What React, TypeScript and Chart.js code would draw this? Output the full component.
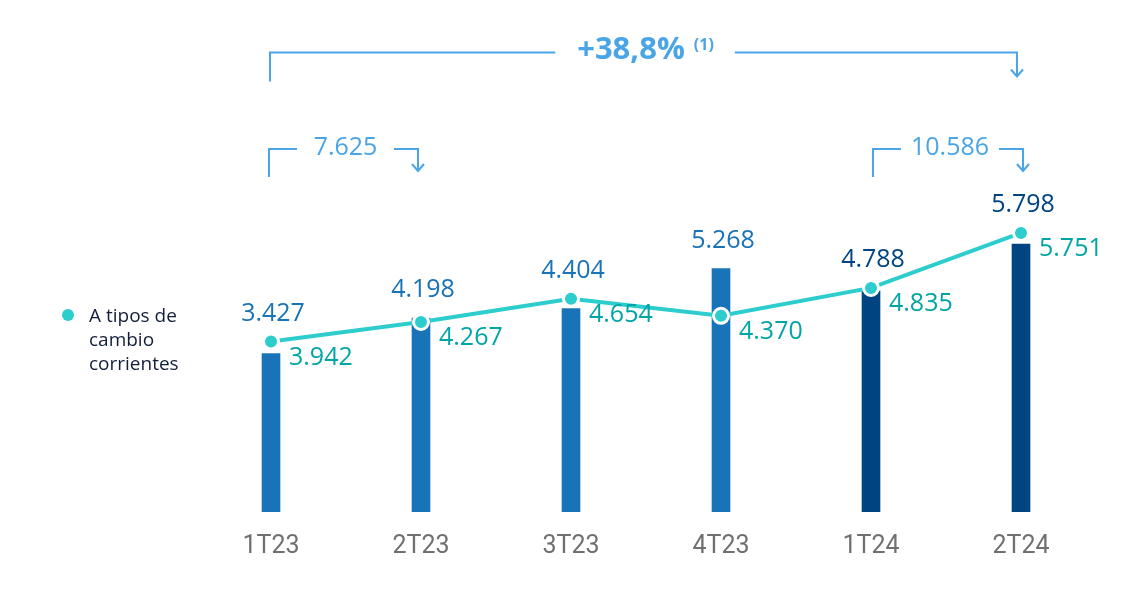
import React, { useEffect, useRef } from "react";
import { Chart, registerables } from "chart.js";

Chart.register(...registerables);

const categories = ["1T23", "2T23", "3T23", "4T23", "1T24", "2T24"];
const barValues = [3427, 4198, 4404, 5268, 4788, 5798];
const lineValues = [3942, 4267, 4654, 4370, 4835, 5751];
const halfYearTotals = [7625, 10586];
const growthLabel = "+38,8%";
const growthNote = "(1)";
const legendLines = ["A tipos de", "cambio", "corrientes"];

const fmt = (n: number) => String(n).replace(/\B(?=(\d{3})+(?!\d))/g, ".");

const C_BAR23 = "#1973b8";
const C_BAR24 = "#004481";
const C_LINE = "#2dcccd";
const C_LINE_LABEL = "#02a5a5";
const C_ANN = "#49a5e6";
const C_LEGEND = "#121e3a";
const FONT = "'Open Sans', Lato, sans-serif";

const overlayPlugin = {
  id: "overlay",
  afterDatasetsDraw(chart: any) {
    const ctx = chart.ctx as CanvasRenderingContext2D;
    const barMeta = chart.getDatasetMeta(1);
    const lineMeta = chart.getDatasetMeta(0);
    const xs = categories.map((_, i) => chart.scales.x.getPixelForValue(i));

    ctx.save();
    // bar value labels
    ctx.font = `25px ${FONT}`;
    ctx.textAlign = "center";
    ctx.textBaseline = "middle";
    barMeta.data.forEach((bar: any, i: number) => {
      const p = lineMeta.data[i];
      const y = Math.min(bar.y, p.y) - 28;
      ctx.fillStyle = categories[i].endsWith("24") ? C_BAR24 : C_BAR23;
      ctx.fillText(fmt(barValues[i]), bar.x + 2, y);
    });
    // line value labels
    ctx.textAlign = "left";
    ctx.fillStyle = C_LINE_LABEL;
    lineMeta.data.forEach((p: any, i: number) => {
      ctx.fillText(fmt(lineValues[i]), p.x + 18, p.y + 16);
    });

    // annotations
    ctx.strokeStyle = C_ANN;
    ctx.fillStyle = C_ANN;
    ctx.lineWidth = 2;
    ctx.lineCap = "butt";

    const arrowHead = (x: number, y: number) => {
      ctx.beginPath();
      ctx.moveTo(x - 6, y - 7);
      ctx.lineTo(x, y);
      ctx.lineTo(x + 6, y - 7);
      ctx.stroke();
    };

    const smallBracket = (x1: number, x2: number, y: number, text: string) => {
      ctx.beginPath();
      ctx.moveTo(x1, y + 28);
      ctx.lineTo(x1, y);
      ctx.lineTo(x1 + 28, y);
      ctx.moveTo(x2 - 24, y);
      ctx.lineTo(x2, y);
      ctx.lineTo(x2, y + 22);
      ctx.stroke();
      arrowHead(x2, y + 22);
      ctx.font = `25px ${FONT}`;
      ctx.textAlign = "center";
      ctx.textBaseline = "middle";
      ctx.fillText(text, (x1 + 28 + x2 - 24) / 2, y - 1);
    };

    smallBracket(xs[0] - 2, xs[1] - 3, 149, fmt(halfYearTotals[0]));
    smallBracket(xs[4] + 2, xs[5] + 2, 149, fmt(halfYearTotals[1]));

    // top bracket
    const tx1 = xs[0] - 1;
    const tx2 = xs[5] - 4;
    const ty = 52.5;
    ctx.font = `bold 31px ${FONT}`;
    const w1 = ctx.measureText(growthLabel).width;
    ctx.font = `bold 16px ${FONT}`;
    const w2 = ctx.measureText(growthNote).width;
    const total = w1 + 9 + w2;
    const mid = (tx1 + tx2) / 2 + 2;
    const tStart = mid - total / 2;
    const tEnd = mid + total / 2;
    ctx.beginPath();
    ctx.moveTo(tx1, ty + 29);
    ctx.lineTo(tx1, ty);
    ctx.lineTo(tStart - 22, ty);
    ctx.moveTo(tEnd + 21, ty);
    ctx.lineTo(tx2, ty);
    ctx.lineTo(tx2, ty + 24);
    ctx.stroke();
    arrowHead(tx2, ty + 24);
    ctx.textAlign = "left";
    ctx.textBaseline = "middle";
    ctx.font = `bold 31px ${FONT}`;
    ctx.fillText(growthLabel, tStart, 50);
    ctx.font = `bold 16px ${FONT}`;
    ctx.fillText(growthNote, tStart + w1 + 9, 45);

    // legend
    ctx.fillStyle = C_LINE;
    ctx.beginPath();
    ctx.arc(68, 315, 6, 0, Math.PI * 2);
    ctx.fill();
    ctx.fillStyle = C_LEGEND;
    ctx.font = `19px ${FONT}`;
    ctx.textAlign = "left";
    ctx.textBaseline = "middle";
    legendLines.forEach((t, i) => ctx.fillText(t, 89, 317 + i * 24));
    ctx.restore();
  },
};

export default function App() {
  const ref = useRef<HTMLCanvasElement>(null);
  useEffect(() => {
    document.body.style.margin = "0";
    if (!ref.current) return;
    const chart = new Chart(ref.current, {
      type: "bar",
      data: {
        labels: categories,
        datasets: [
          {
            type: "line",
            label: "A tipos de cambio corrientes",
            data: lineValues,
            yAxisID: "y2",
            borderColor: C_LINE,
            borderWidth: 4,
            pointRadius: 7.5,
            pointBorderWidth: 3,
            pointBorderColor: "#ffffff",
            pointBackgroundColor: C_LINE,
            tension: 0,
            order: 0,
          } as any,
          {
            type: "bar",
            label: "Total",
            data: barValues,
            yAxisID: "y",
            backgroundColor: categories.map((c) => (c.endsWith("24") ? C_BAR24 : C_BAR23)),
            barThickness: 18,
            order: 1,
          },
        ],
      },
      options: {
        animation: false,
        responsive: false,
        devicePixelRatio: 1,
        layout: { padding: { left: 196, right: 50, top: 60, bottom: 32 } },
        plugins: { legend: { display: false }, tooltip: { enabled: false } },
        scales: {
          x: {
            grid: { display: false, drawTicks: false },
            border: { display: false },
            ticks: {
              color: "#707070",
              font: { family: "'Liberation Sans Narrow', 'Roboto', sans-serif", size: 25 },
              padding: 20,
            },
            afterFit: (s: any) => {
              s.height = 50;
            },
          },
          y: { display: false, min: 0, max: 9780 },
          y2: { display: false, min: 1100, max: 8633 },
        },
      },
      plugins: [overlayPlugin],
    });
    return () => chart.destroy();
  }, []);
  return (
    <div style={{ width: 1146, height: 594 }}>
      <canvas ref={ref} width={1146} height={594} />
    </div>
  );
}
